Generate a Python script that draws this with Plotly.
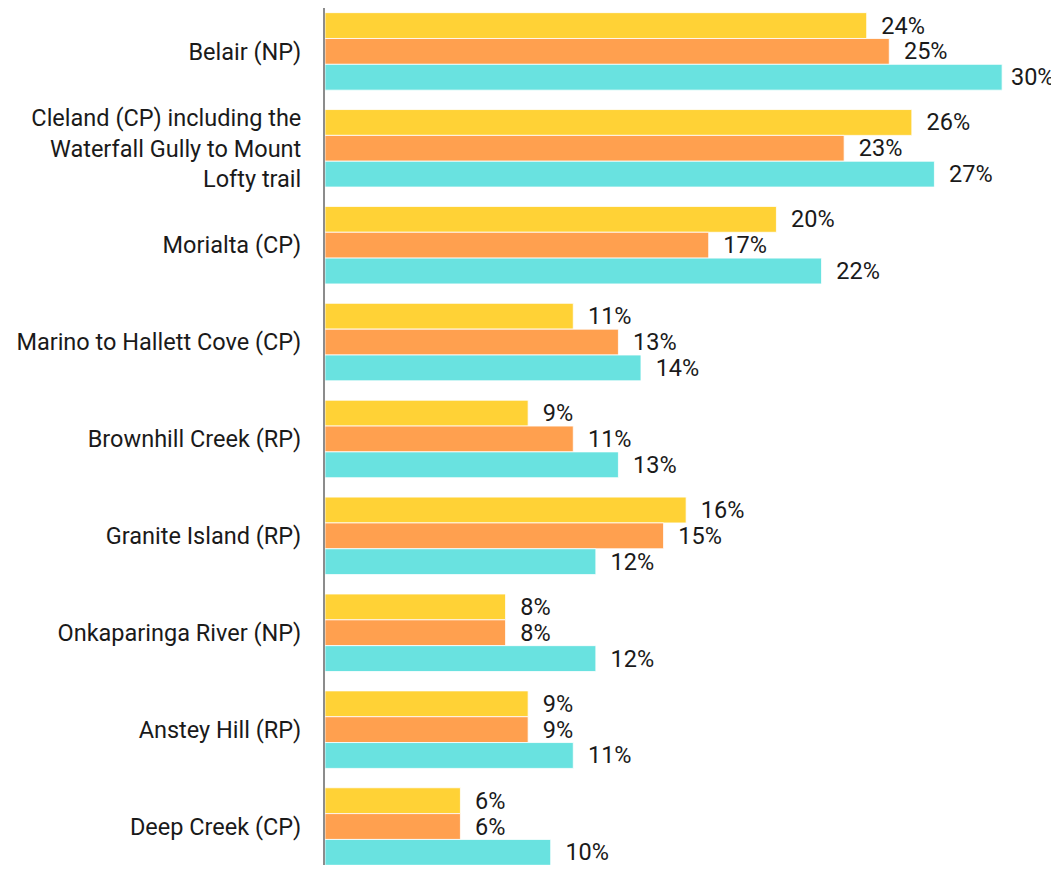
import plotly.graph_objects as go

categories = [
    "Belair (NP)",
    "Cleland (CP) including the<br>Waterfall Gully to Mount<br>Lofty trail",
    "Morialta (CP)",
    "Marino to Hallett Cove (CP)",
    "Brownhill Creek (RP)",
    "Granite Island (RP)",
    "Onkaparinga River (NP)",
    "Anstey Hill (RP)",
    "Deep Creek (CP)",
]
series_yellow = [24, 26, 20, 11, 9, 16, 8, 9, 6]
series_orange = [25, 23, 17, 13, 11, 15, 8, 9, 6]
series_cyan = [30, 27, 22, 14, 13, 12, 12, 11, 10]

colors = ["#FFD236", "#FFA04F", "#69E2E0"]
series = [series_yellow, series_orange, series_cyan]
max_val = max(max(s) for s in series)

FONT = "Roboto"
FS = 23.5

fig = go.Figure()
for vals, col in zip(series, colors):
    labels = [("\u00a0" if v == max_val else "\u00a0\u00a0") + f"{v}%" for v in vals]
    fig.add_trace(go.Bar(
        y=categories,
        x=vals,
        orientation="h",
        marker=dict(color=col, line=dict(color="rgba(255,255,255,0.8)", width=1)),
        text=labels,
        textposition="outside",
        textfont=dict(family=FONT, size=FS, color="#1a1a1a"),
        cliponaxis=False,
        showlegend=False,
    ))

# page body adds an 8px offset; figure sized to the remaining visible area
fig.update_layout(
    width=1051,
    height=857,
    barmode="group",
    bargap=0.2,
    bargroupgap=0,
    plot_bgcolor="white",
    paper_bgcolor="white",
    margin=dict(l=317, r=0, t=0, b=0, autoexpand=False),
    font=dict(family=FONT, size=FS, color="#1a1a1a"),
    uniformtext=dict(minsize=FS, mode="show"),
)
fig.update_xaxes(range=[0, 32.52], visible=False, showgrid=False, zeroline=False, automargin=False)
fig.update_yaxes(
    range=[8.397, -0.448],
    automargin=False,
    showgrid=False,
    zeroline=False,
    showline=True,
    linecolor="#8c8c8c",
    linewidth=2,
    ticks="",
    ticklabelstandoff=17,
    tickfont=dict(family=FONT, size=FS, color="#1a1a1a"),
)

fig.write_html("out.html")
